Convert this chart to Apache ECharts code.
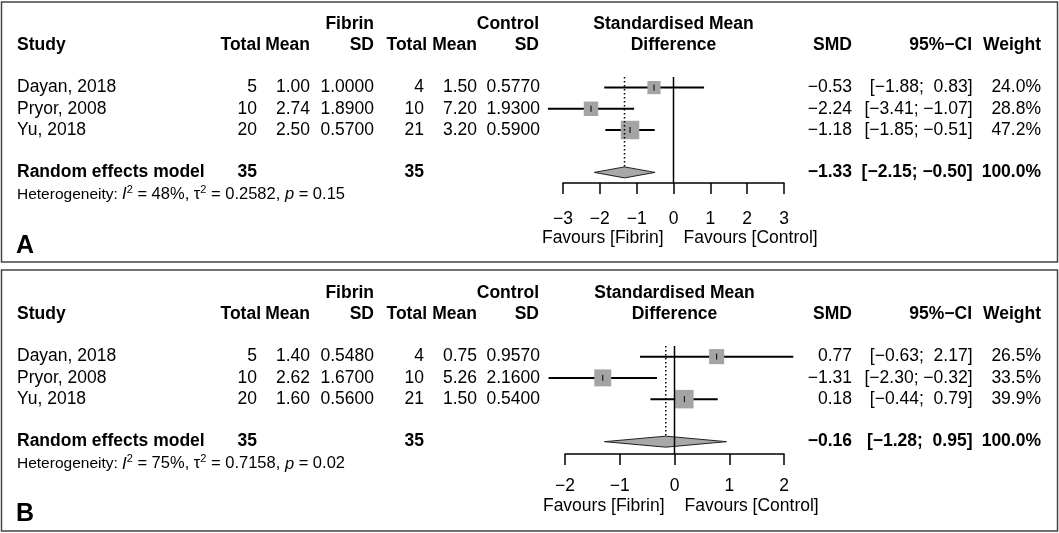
<!DOCTYPE html>
<html>
<head>
<meta charset="utf-8">
<script src="https://cdn.jsdelivr.net/npm/echarts@6/dist/echarts.min.js"></script>
<style>
  html, body { margin: 0; padding: 0; background: #fff; }
  #main { width: 1059px; height: 533px; }
</style>
</head>
<body>
<div id="main"></div>
<script>
// study labels (same in both panels)
var studies = ['Dayan, 2018', 'Pryor, 2008', 'Yu, 2018'];

// panel A
var fibTotalA = [5, 10, 20];
var fibMeanA = [1.00, 2.74, 2.50];
var fibSdA = [1.0000, 1.8900, 0.5700];
var ctlTotalA = [4, 10, 21];
var ctlMeanA = [1.50, 7.20, 3.20];
var ctlSdA = [0.5770, 1.9300, 0.5900];
var smdA = [-0.53, -2.24, -1.18];
var loA = [-1.88, -3.41, -1.85];
var hiA = [0.83, -1.07, -0.51];
var weightA = [24.0, 28.8, 47.2];
var pooledA = [-1.33, -2.15, -0.50]; // est, lo, hi
var hetA = ['48%', '0.2582', '0.15'];
var ticksA = [-3, 3];

// panel B
var fibTotalB = [5, 10, 20];
var fibMeanB = [1.40, 2.62, 1.60];
var fibSdB = [0.5480, 1.6700, 0.5600];
var ctlTotalB = [4, 10, 21];
var ctlMeanB = [0.75, 5.26, 1.50];
var ctlSdB = [0.9570, 2.1600, 0.5400];
var smdB = [0.77, -1.31, 0.18];
var loB = [-0.63, -2.30, -0.44];
var hiB = [2.17, -0.32, 0.79];
var weightB = [26.5, 33.5, 39.9];
var pooledB = [-0.16, -1.28, 0.95];
var hetB = ['75%', '0.7158', '0.02'];
var ticksB = [-2, 2];

var totals = [35, 35];

var FONT = '"Liberation Sans", Arial, Helvetica, sans-serif';
var FS = 17.5;

function minus(v) { return String(v).replace('-', '\u2212'); }
function fmt(v, d) { return minus(v.toFixed(d)); }
function ci(lo, hi) {
  var a = fmt(lo, 2), b = fmt(hi, 2);
  if (lo >= 0) a = ' ' + a;
  if (hi >= 0) b = ' ' + b;
  return '[' + a + '; ' + b + ']';
}

var panels = [
  { fibTotal: fibTotalA, fibMean: fibMeanA, fibSd: fibSdA, ctlTotal: ctlTotalA, ctlMean: ctlMeanA, ctlSd: ctlSdA,
    smd: smdA, lo: loA, hi: hiA, weight: weightA, pooled: pooledA, het: hetA, ticks: ticksA,
    letter: 'A', top: 0, grid: { left: 563, width: 221, top: 77, height: 106 }, ymax: 4.5, labelGap: 27 },
  { fibTotal: fibTotalB, fibMean: fibMeanB, fibSd: fibSdB, ctlTotal: ctlTotalB, ctlMean: ctlMeanB, ctlSd: ctlSdB,
    smd: smdB, lo: loB, hi: hiB, weight: weightB, pooled: pooledB, het: hetB, ticks: ticksB,
    letter: 'B', top: 268, grid: { left: 565, width: 219, top: 346, height: 108 }, ymax: 4.58, labelGap: 23 }
];

var grids = [], xAxes = [], yAxes = [], series = [];

panels.forEach(function (p, gi) {
  grids.push(p.grid);
  xAxes.push({
    type: 'value', gridIndex: gi, min: p.ticks[0], max: p.ticks[1], interval: 1,
    splitLine: { show: false },
    axisLine: { onZero: false, lineStyle: { color: '#000', width: 1.5 } },
    axisTick: { inside: false, length: 11, lineStyle: { color: '#000', width: 1.5 } },
    axisLabel: { color: '#000', fontSize: FS, fontFamily: FONT, margin: p.labelGap,
      formatter: function (v) { return minus(v); } }
  });
  yAxes.push({
    type: 'value', gridIndex: gi, inverse: true, min: -0.5, max: p.ymax, show: false
  });

  var maxW = Math.max.apply(null, p.weight);
  var rows = p.smd.map(function (v, i) { return [v, p.lo[i], p.hi[i], i, p.weight[i]]; });

  // line of no effect
  series.push({
    type: 'line', xAxisIndex: gi, yAxisIndex: gi, symbol: 'none', silent: true,
    data: [[0, -0.5], [0, p.ymax]],
    lineStyle: { color: '#000', width: 1.5 }
  });
  // pooled estimate, dotted
  series.push({
    type: 'line', xAxisIndex: gi, yAxisIndex: gi, symbol: 'none', silent: true,
    data: [[p.pooled[0], -0.5], [p.pooled[0], 3.75]],
    lineStyle: { color: '#000', width: 1.5, type: [1.5, 2.5] }
  });
  // studies: CI + weighted square
  series.push({
    type: 'custom', xAxisIndex: gi, yAxisIndex: gi, silent: true,
    data: rows,
    renderItem: function (params, api) {
      var c = api.coord([api.value(0), api.value(3)]);
      var l = api.coord([api.value(1), api.value(3)]);
      var h = api.coord([api.value(2), api.value(3)]);
      var s = 18.5 * Math.sqrt(api.value(4) / maxW);
      return {
        type: 'group',
        children: [
          { type: 'line', shape: { x1: l[0], y1: c[1], x2: h[0], y2: c[1] }, style: { stroke: '#000', lineWidth: 2 } },
          { type: 'rect', shape: { x: c[0] - s / 2, y: c[1] - s / 2, width: s, height: s }, style: { fill: '#a4a4a4' } },
          { type: 'line', shape: { x1: c[0], y1: c[1] - 3, x2: c[0], y2: c[1] + 3 }, style: { stroke: '#000', lineWidth: 1 } }
        ]
      };
    }
  });
  // pooled diamond
  series.push({
    type: 'custom', xAxisIndex: gi, yAxisIndex: gi, silent: true,
    data: [[p.pooled[0], p.pooled[1], p.pooled[2], 4]],
    renderItem: function (params, api) {
      var c = api.coord([api.value(0), api.value(3)]);
      var l = api.coord([api.value(1), api.value(3)]);
      var h = api.coord([api.value(2), api.value(3)]);
      return {
        type: 'polygon',
        shape: { points: [[l[0], c[1]], [c[0], c[1] - 5.5], [h[0], c[1]], [c[0], c[1] + 5.5]] },
        style: { fill: '#a8a8a8', stroke: '#222', lineWidth: 1 }
      };
    }
  });
});

var chart = echarts.init(document.getElementById('main'), null, { renderer: 'canvas' });
chart.setOption({
  animation: false,
  backgroundColor: '#fff',
  grid: grids,
  xAxis: xAxes,
  yAxis: yAxes,
  series: series
});

// table text placed on the same rows as the plot
function txt(x, y, s, align, bold, size) {
  return {
    type: 'text', silent: true, z: 10,
    style: { text: s, x: x, y: y, align: align || 'right', verticalAlign: 'middle',
      fill: '#000', fontFamily: FONT, fontSize: size || FS, fontWeight: bold ? 'bold' : 'normal' }
  };
}

var graphics = [];
panels.forEach(function (p, gi) {
  function rowY(r) { return chart.convertToPixel({ gridIndex: gi }, [0, r])[1]; }
  var x0 = chart.convertToPixel({ gridIndex: gi }, [0, 0])[0];
  var t = p.top;

  graphics.push({
    type: 'rect', silent: true,
    shape: { x: 1.5, y: 2 + t, width: 1056, height: 260 + (gi ? 1 : 0) },
    style: { fill: 'none', stroke: '#444', lineWidth: 1.5 }
  });

  var h1 = rowY(-3), h2 = rowY(-2);
  graphics.push(txt(374, h1, 'Fibrin', 'right', true));
  graphics.push(txt(539, h1, 'Control', 'right', true));
  graphics.push(txt(x0, h1, 'Standardised Mean', 'center', true));
  graphics.push(txt(17, h2, 'Study', 'left', true));
  graphics.push(txt(261, h2, 'Total', 'right', true));
  graphics.push(txt(310, h2, 'Mean', 'right', true));
  graphics.push(txt(374, h2, 'SD', 'right', true));
  graphics.push(txt(427, h2, 'Total', 'right', true));
  graphics.push(txt(477, h2, 'Mean', 'right', true));
  graphics.push(txt(539, h2, 'SD', 'right', true));
  graphics.push(txt(x0, h2, 'Difference', 'center', true));
  graphics.push(txt(852, h2, 'SMD', 'right', true));
  graphics.push(txt(972, h2, '95%\u2212CI', 'right', true));
  graphics.push(txt(1041, h2, 'Weight', 'right', true));

  studies.forEach(function (name, i) {
    var y = rowY(i);
    graphics.push(txt(17, y, name, 'left'));
    graphics.push(txt(257, y, String(p.fibTotal[i])));
    graphics.push(txt(310, y, fmt(p.fibMean[i], 2)));
    graphics.push(txt(374, y, fmt(p.fibSd[i], 4)));
    graphics.push(txt(424, y, String(p.ctlTotal[i])));
    graphics.push(txt(477, y, fmt(p.ctlMean[i], 2)));
    graphics.push(txt(540, y, fmt(p.ctlSd[i], 4)));
    graphics.push(txt(852, y, fmt(p.smd[i], 2)));
    graphics.push(txt(972.5, y, ci(p.lo[i], p.hi[i])));
    graphics.push(txt(1041, y, p.weight[i].toFixed(1) + '%'));
  });

  var yr = rowY(4);
  graphics.push(txt(17, yr, 'Random effects model', 'left', true));
  graphics.push(txt(257, yr, String(totals[0]), 'right', true));
  graphics.push(txt(424, yr, String(totals[1]), 'right', true));
  graphics.push(txt(852, yr, fmt(p.pooled[0], 2), 'right', true));
  graphics.push(txt(972.5, yr, ci(p.pooled[1], p.pooled[2]), 'right', true));
  graphics.push(txt(1041, yr, '100.0%', 'right', true));

  // heterogeneity line; math part a touch larger, like plotmath
  graphics.push({
    type: 'text', silent: true, z: 10,
    style: {
      x: 17, y: rowY(5) + 1, align: 'left', verticalAlign: 'middle',
      text: '{h|Heterogeneity: }{i|I}{s|2}{n| = ' + p.het[0] + ', \u03c4}{s|2}{n| = ' + p.het[1] +
        ', }{i|p}{n| = ' + p.het[2] + '}',
      rich: {
        h: { fontFamily: FONT, fontSize: 15.5, lineHeight: 20, fill: '#000' },
        n: { fontFamily: FONT, fontSize: 16.5, lineHeight: 20, fill: '#000' },
        i: { fontFamily: FONT, fontSize: 16.5, lineHeight: 20, fontStyle: 'italic', fill: '#000' },
        s: { fontFamily: FONT, fontSize: 11, lineHeight: 12, verticalAlign: 'top', fill: '#000' }
      }
    }
  });

  graphics.push(txt(x0 - 10, 238 + t, 'Favours [Fibrin]', 'right'));
  graphics.push(txt(x0 + 10, 238 + t, 'Favours [Control]', 'left'));
  graphics.push(txt(16, 246 + t, p.letter, 'left', true, 25));
});

chart.setOption({ graphic: graphics });
</script>
</body>
</html>
